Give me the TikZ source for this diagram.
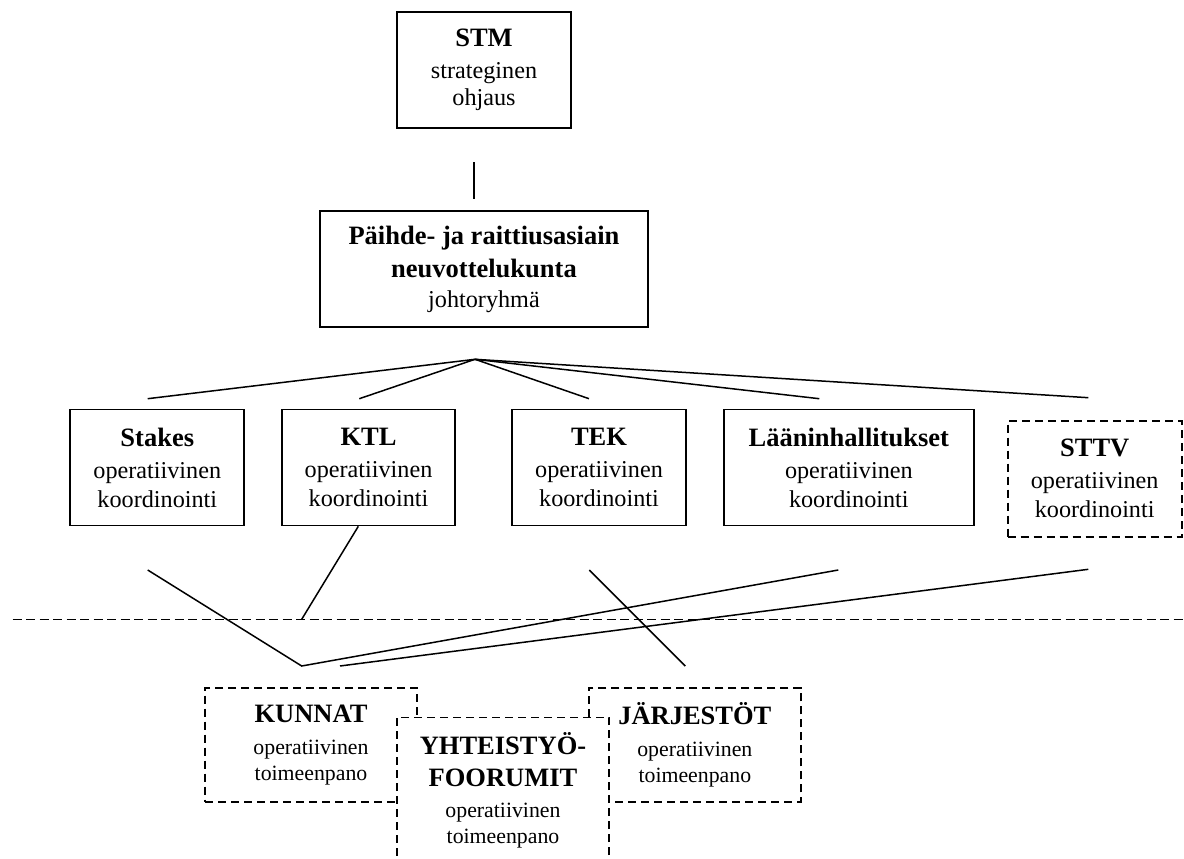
\documentclass[tikz,border=0pt]{standalone}
\usepackage{fontspec}
\setmainfont{Liberation Serif}
\newcommand{\hd}[1]{{\fontsize{26.5}{30}\selectfont\bfseries #1}}
\begin{document}
\begin{tikzpicture}[x=1pt,y=-1pt,
  box/.style={draw, line width=1.7pt, inner sep=0pt, align=center,
    font=\fontsize{24.2}{29}\selectfont, minimum width=174pt, minimum height=116pt},
  dbox/.style={box, dash pattern=on 8pt off 5pt},
  lbox/.style={dbox, font=\fontsize{21.8}{26}\selectfont, fill=white},
  conn/.style={line width=1.5pt},
  sepline/.style={line width=1.5pt, dash pattern=on 9pt off 4.5pt}]
\useasboundingbox (0,0) rectangle (1184,859);

% top boxes
\node[box] (stm) at (484,70) {\hd{STM}\\[3pt] strateginen\\[-2pt] ohjaus};
\node[box, minimum width=328pt] (pr) at (484,269)
  {\hd{Päihde- ja raittiusasiain}\\[4pt]\hd{neuvottelukunta}\\[1pt] johtoryhmä};

\coordinate (vtop) at (474,162);
\coordinate (vbot) at (474,199);
\draw[conn] (vtop) -- (vbot);

% middle row
\node[box] (stakes) at (157.3,467.5) {\hd{Stakes}\\[3pt] operatiivinen\\ koordinointi};
\node[box, minimum width=173.6pt] (ktl) at (368.5,467.5) {\hd{KTL}\\[3pt] operatiivinen\\ koordinointi};
\node[box] (tek) at (599,467.5) {\hd{TEK}\\[3pt] operatiivinen\\ koordinointi};
\node[box, minimum width=250.3pt] (laan) at (848.85,467.5) {\hd{Lääninhallitukset}\\[3pt] operatiivinen\\ koordinointi};
\node[dbox] (sttv) at (1094.7,478.7) {\hd{STTV}\\[3pt] operatiivinen\\ koordinointi};

% fan
\coordinate (apex) at (475,359.3);
\coordinate (fs) at (147.7,398.7);
\coordinate (fk) at (359.3,398.7);
\coordinate (ft) at (589,398.7);
\coordinate (fl) at (819.3,398.7);
\coordinate (fv) at (1088.3,397.7);
\foreach \c in {fs,fk,ft,fl,fv} \draw[conn] (apex) -- (\c);

% separator
\coordinate (sepL) at (12.7,619.3);
\coordinate (sepR) at (1184,619.3);
\draw[sepline] (sepL) -- (sepR);

% lower connectors
\coordinate (ls) at (147.7,570);
\coordinate (vpt) at (301.7,666);
\coordinate (ll) at (838.3,570);
\coordinate (ktlend) at (301.7,619.3);
\coordinate (lt) at (589.3,570);
\coordinate (ltend) at (685.3,666);
\coordinate (lv) at (1088.3,569.3);
\coordinate (lvend) at (340,666);
\draw[conn] (ls) -- (vpt) -- (ll);
\draw[conn] ([xshift=-10.2pt]ktl.south) -- (ktlend);
\draw[conn] (lt) -- (ltend);
\draw[conn] (lv) -- (lvend);

% bottom boxes
\node[lbox, minimum width=212pt, minimum height=114pt] (kunnat) at (311,744.7)
  {\hd{KUNNAT}\\[6pt] operatiivinen\\ toimeenpano};
\node[lbox, minimum width=211.7pt, minimum height=114pt] (jarj) at (694.85,744.7)
  {\hd{JÄRJESTÖT}\\[6pt] operatiivinen\\ toimeenpano};
\node[lbox, minimum width=212.6pt, minimum height=146pt] (yht) at (503,790.6)
  {\hd{YHTEISTYÖ-}\\[6pt]\hd{FOORUMIT}\\[5pt] operatiivinen\\ toimeenpano};
\end{tikzpicture}
\end{document}
